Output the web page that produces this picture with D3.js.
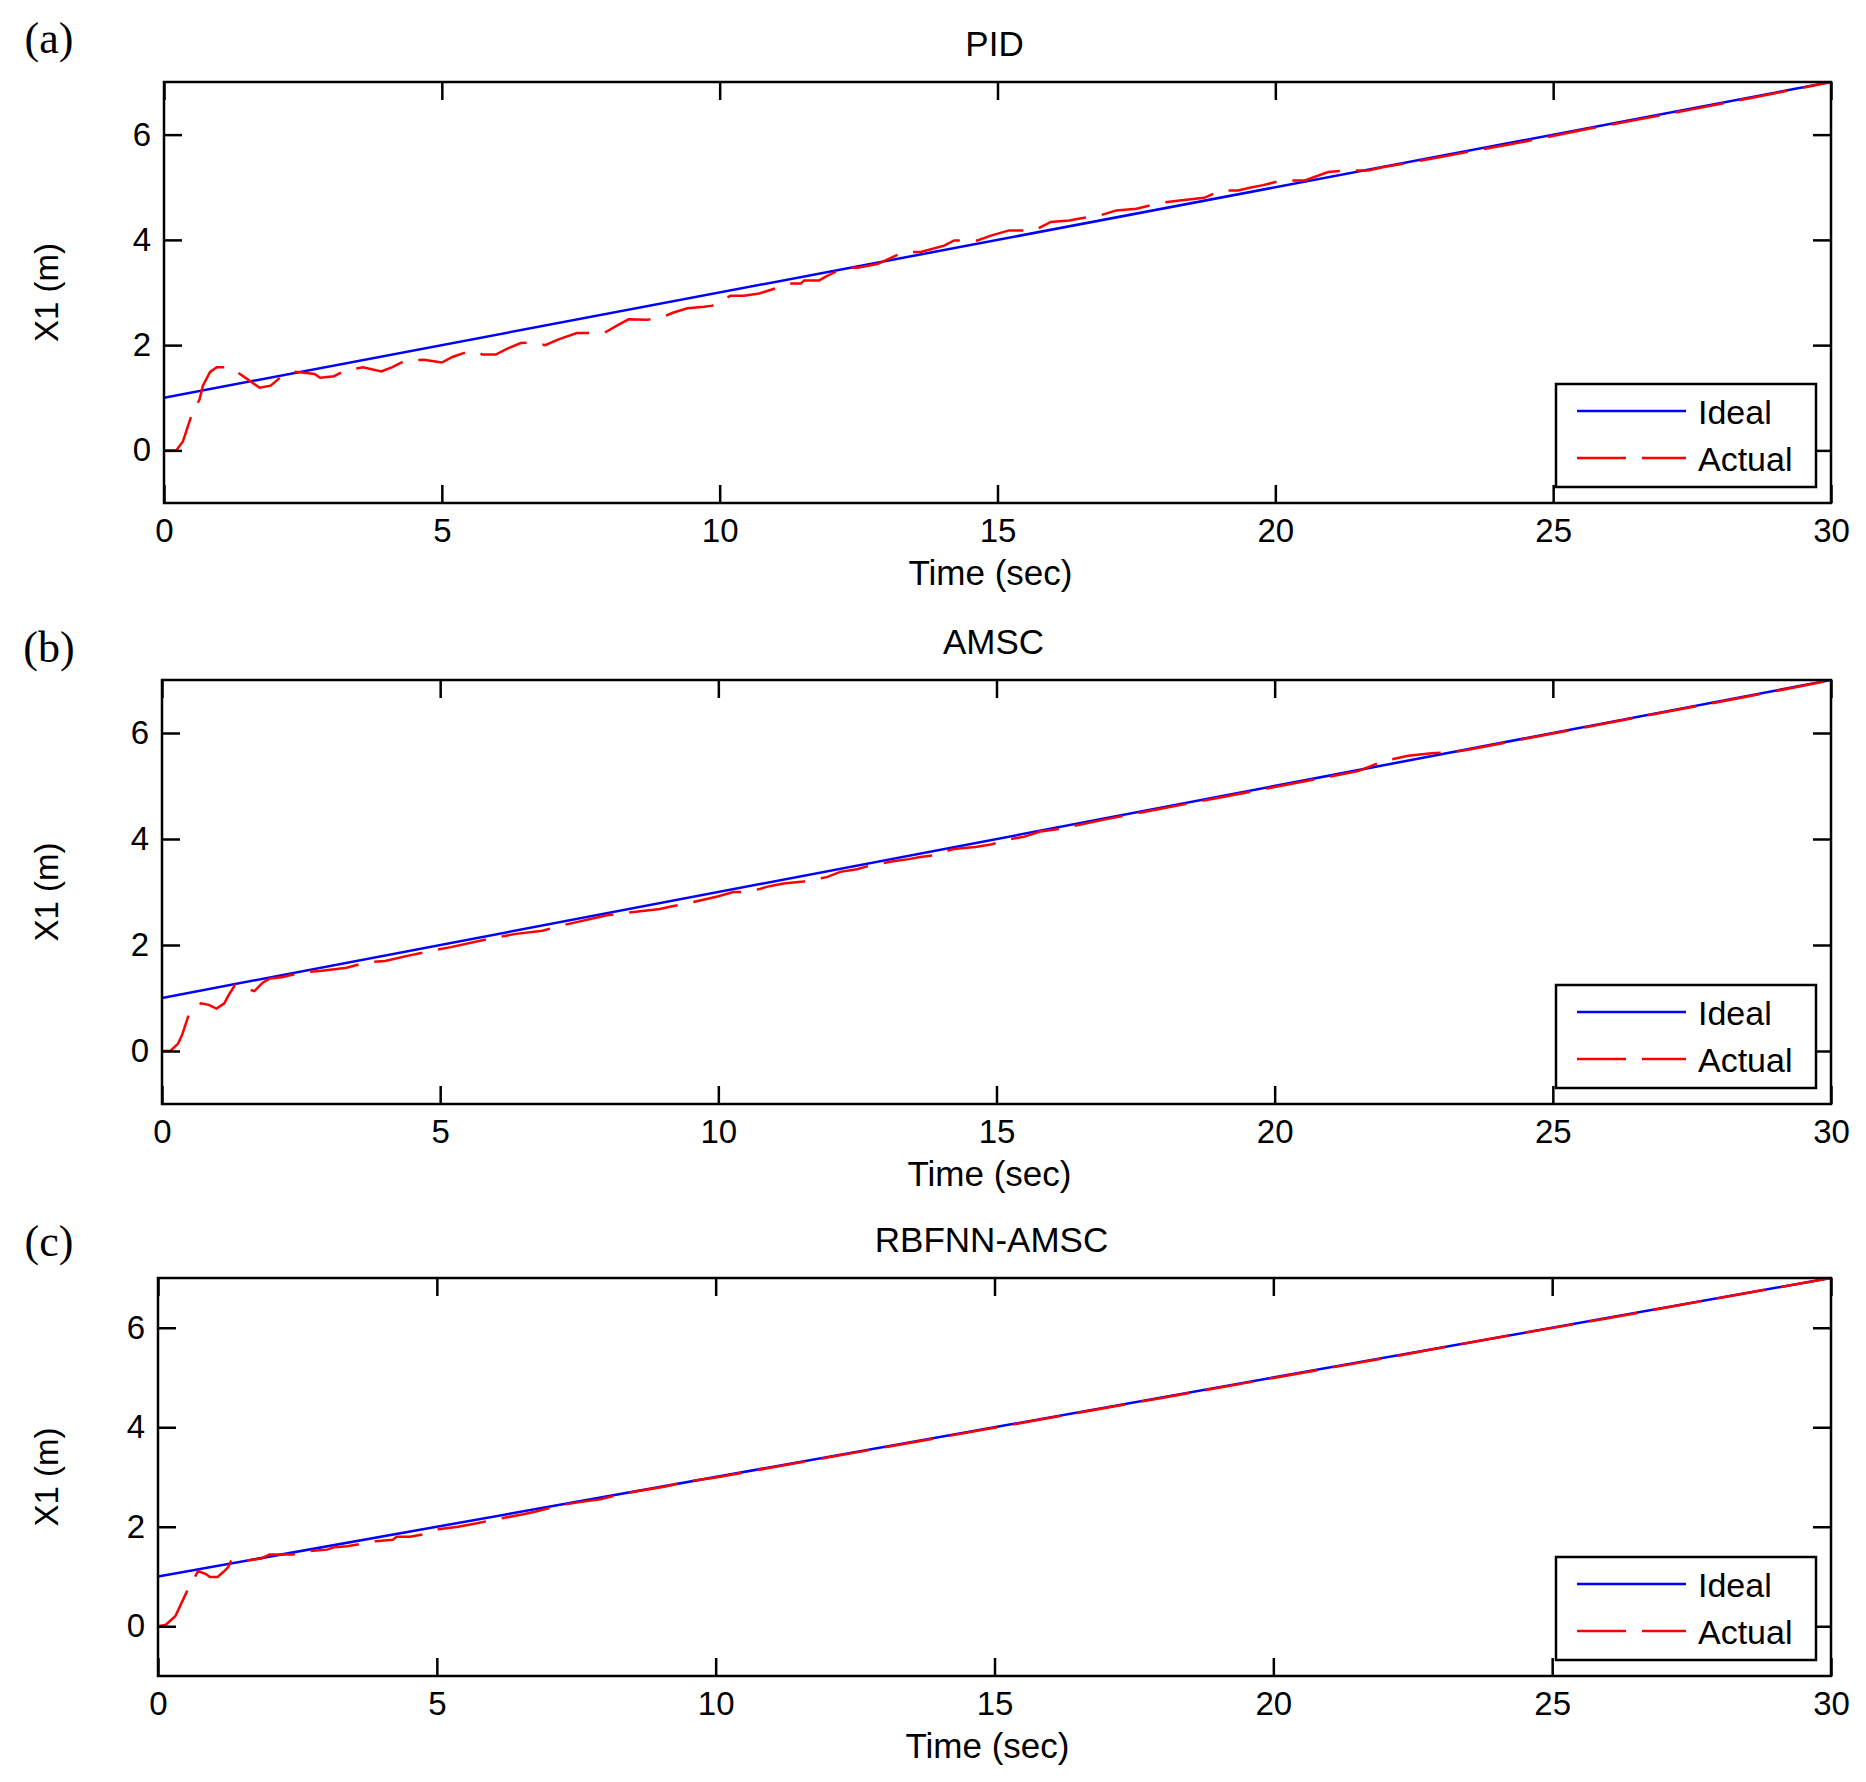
<!DOCTYPE html>
<html>
<head>
<meta charset="utf-8">
<script src="https://cdn.jsdelivr.net/npm/d3@7"></script>
<style>
  body { margin: 0; background: #fff; }
  svg text { font-family: "Liberation Sans", Arial, sans-serif; fill: #000; }
</style>
</head>
<body>
<svg id="chart" width="1866" height="1782"></svg>
<script>
// ---- data ----
const titles = ["PID", "AMSC", "RBFNN-AMSC"];
const panelLabels = ["(a)", "(b)", "(c)"];
const xTicks = [0, 5, 10, 15, 20, 25, 30];
const yTicks = [0, 2, 4, 6];
const legendNames = ["Ideal", "Actual"];

// ideal trajectory (same in every panel)
const idealTime = [0, 30];
const idealX1 = [1, 7];

// PID actual
const pidTime = [0, 0.22, 0.34, 0.5, 0.64, 0.7, 0.83, 0.95, 1.19, 1.52, 1.72, 1.92, 2.12, 2.29, 2.41, 2.71, 2.81, 3.06, 3.26, 3.58,
  3.91, 4.11, 4.35, 4.68, 5.0, 5.2, 5.45, 5.65, 5.73, 5.97, 6.17, 6.42, 6.62, 6.86, 7.1, 7.43, 7.63, 7.92, 8.15, 8.36,
  8.69, 8.97, 9.17, 9.42, 9.72, 9.87, 10.2, 10.44, 10.71, 11.04, 11.25, 11.46, 11.52, 11.79, 11.91, 12.06, 12.24, 12.48, 12.84, 13.08,
  13.32, 13.62, 14.04, 14.22, 14.64, 14.88, 15.21, 15.66, 15.96, 16.29, 16.56, 16.86, 17.14, 17.5, 17.77, 18.0, 18.28, 18.72, 19.03, 19.33,
  19.54, 19.78, 20.11, 20.53, 20.95, 21.31, 21.67, 21.93, 23.0, 23.71, 24.5, 25.68, 26.5, 27.5, 28.54, 29.58, 30];
const pidX1 = [0, 0, 0.17, 0.68, 0.97, 1.23, 1.49, 1.58, 1.58, 1.34, 1.19, 1.23, 1.41, 1.49, 1.49, 1.45, 1.38, 1.41, 1.52, 1.58,
  1.50, 1.58, 1.71, 1.72, 1.67, 1.78, 1.87, 1.87, 1.82, 1.82, 1.93, 2.04, 2.05, 2.0, 2.11, 2.23, 2.23, 2.23, 2.37, 2.49,
  2.48, 2.53, 2.62, 2.70, 2.73, 2.75, 2.94, 2.94, 2.98, 3.09, 3.17, 3.17, 3.23, 3.23, 3.30, 3.38, 3.47, 3.47, 3.54, 3.66,
  3.77, 3.77, 3.89, 3.99, 3.99, 4.08, 4.18, 4.18, 4.34, 4.37, 4.42, 4.47, 4.56, 4.59, 4.66, 4.71, 4.75, 4.80, 4.94, 4.94,
  4.99, 5.04, 5.13, 5.13, 5.29, 5.32, 5.32, 5.38, 5.58, 5.72, 5.87, 6.12, 6.28, 6.48, 6.69, 6.91, 7.0];

// AMSC actual
const amscTime = [0, 0.15, 0.29, 0.36, 0.48, 0.70, 0.84, 0.98, 1.12, 1.2, 1.31, 1.66, 1.81, 1.94, 2.15, 2.5, 2.84, 3.32, 3.67, 4.01,
  4.43, 4.84, 5.19, 5.8, 6.36, 6.84, 7.19, 8.0, 8.36, 8.95, 9.17, 9.55, 9.75, 10.0, 10.27, 10.39, 10.72, 10.92, 11.17, 11.53,
  11.95, 12.19, 12.49, 12.7, 12.94, 13.09, 13.42, 13.63, 13.87, 14.05, 14.23, 14.62, 14.92, 15.07, 15.25, 15.49, 15.79, 16.12, 17, 18,
  19, 20, 21, 21.5, 21.95, 22.4, 22.82, 23.2, 23.5, 24.5, 25.5, 26.5, 27.5, 28.5, 29.5, 30];
const amscX1 = [0, 0, 0.14, 0.3, 0.68, 0.90, 0.87, 0.80, 0.90, 1.06, 1.24, 1.13, 1.29, 1.37, 1.39, 1.48, 1.51, 1.57, 1.67, 1.70,
  1.80, 1.89, 1.96, 2.10, 2.21, 2.27, 2.37, 2.56, 2.61, 2.68, 2.73, 2.81, 2.86, 2.92, 3.0, 3.0, 3.05, 3.11, 3.16, 3.20,
  3.28, 3.38, 3.43, 3.49, 3.54, 3.57, 3.62, 3.66, 3.69, 3.76, 3.81, 3.85, 3.90, 3.95, 4.0, 4.04, 4.14, 4.19, 4.38, 4.58,
  4.78, 4.98, 5.18, 5.28, 5.47, 5.57, 5.62, 5.64, 5.69, 5.89, 6.09, 6.29, 6.49, 6.69, 6.89, 7.0];

// RBFNN-AMSC actual
const rbfTime = [0, 0.14, 0.31, 0.41, 0.54, 0.72, 0.86, 0.93, 1.07, 1.17, 1.26, 1.31, 1.41, 1.52, 1.85, 2.0, 2.41, 2.69, 3.03, 3.17,
  3.39, 3.66, 3.9, 4.21, 4.28, 4.52, 4.76, 5.03, 5.38, 5.72, 5.97, 6.21, 6.55, 6.76, 7.1, 7.31, 7.59, 7.93, 8.28, 8.62,
  9.1, 9.45, 10, 12, 14, 16, 18, 20, 22, 24, 26, 28, 30];
const rbfX1 = [0, 0.03, 0.2, 0.44, 0.75, 1.11, 1.05, 0.99, 0.99, 1.09, 1.19, 1.31, 1.34, 1.31, 1.36, 1.44, 1.44, 1.51, 1.54, 1.59,
  1.61, 1.66, 1.71, 1.74, 1.80, 1.80, 1.85, 1.95, 2.0, 2.07, 2.13, 2.18, 2.25, 2.30, 2.40, 2.45, 2.50, 2.55, 2.65, 2.72,
  2.81, 2.90, 2.99, 3.39, 3.79, 4.19, 4.59, 4.99, 5.39, 5.80, 6.19, 6.60, 7.0];

const actualTimes = [pidTime, amscTime, rbfTime];
const actualValues = [pidX1, amscX1, rbfX1];

// ---- layout ----
const layout = [
  { left: 164, right: 1831, top: 82, bottom: 503, labelY: 53 },
  { left: 162, right: 1831, top: 680, bottom: 1104, labelY: 662 },
  { left: 158, right: 1831, top: 1278, bottom: 1676, labelY: 1256 }
];

const svg = d3.select("#chart");
const zip = (a, b) => a.map((d, i) => [d, b[i]]);

layout.forEach((p, i) => {
  const x = d3.scaleLinear().domain([0, 30]).range([p.left, p.right]);
  const y = d3.scaleLinear().domain([-1, 7]).range([p.bottom, p.top]);
  const g = svg.append("g");

  const line = d3.line().x(d => x(d[0])).y(d => y(d[1]));

  // clip so the lines stay inside the box
  const clipId = "clip" + i;
  svg.append("clipPath").attr("id", clipId)
    .append("rect")
    .attr("x", p.left).attr("y", p.top)
    .attr("width", p.right - p.left).attr("height", p.bottom - p.top);

  const plot = g.append("g").attr("clip-path", `url(#${clipId})`);
  plot.append("path")
    .datum(zip(idealTime, idealX1))
    .attr("d", line)
    .attr("fill", "none")
    .attr("stroke", "#0000ff")
    .attr("stroke-width", 2.5);
  plot.append("path")
    .datum(zip(actualTimes[i], actualValues[i]))
    .attr("d", line)
    .attr("fill", "none")
    .attr("stroke", "#ff0000")
    .attr("stroke-width", 2.5)
    .attr("stroke-dasharray", "49,16");

  // axes (ticks inward, on all four sides)
  const bottomAxis = g.append("g")
    .attr("transform", `translate(0,${p.bottom})`)
    .call(d3.axisBottom(x).tickValues(xTicks).tickSize(-18).tickPadding(16).tickFormat(d3.format("d")));
  const topAxis = g.append("g")
    .attr("transform", `translate(0,${p.top})`)
    .call(d3.axisTop(x).tickValues(xTicks).tickSize(-18).tickFormat(""));
  const leftAxis = g.append("g")
    .attr("transform", `translate(${p.left},0)`)
    .call(d3.axisLeft(y).tickValues(yTicks).tickSize(-18).tickPadding(13).tickFormat(d3.format("d")));
  const rightAxis = g.append("g")
    .attr("transform", `translate(${p.right},0)`)
    .call(d3.axisRight(y).tickValues(yTicks).tickSize(-18).tickFormat(""));

  [bottomAxis, topAxis, leftAxis, rightAxis].forEach(a => {
    a.select(".domain").remove();
    a.selectAll(".tick line").attr("stroke", "#000").attr("stroke-width", 2.5);
    a.selectAll(".tick text").attr("font-size", 33).attr("fill", "#000");
  });

  // box
  g.append("rect")
    .attr("x", p.left).attr("y", p.top)
    .attr("width", p.right - p.left).attr("height", p.bottom - p.top)
    .attr("fill", "none").attr("stroke", "#000").attr("stroke-width", 2.5);

  // texts
  g.append("text")
    .attr("x", (p.left + p.right) / 2 - 3).attr("y", p.top - 26)
    .attr("text-anchor", "middle").attr("font-size", 35)
    .text(titles[i]);
  g.append("text")
    .attr("x", (p.left + p.right) / 2 - 7).attr("y", p.bottom + 82)
    .attr("text-anchor", "middle").attr("font-size", 35)
    .text("Time (sec)");
  g.append("text")
    .attr("transform", `translate(46,${(p.top + p.bottom) / 2}) rotate(-90)`)
    .attr("text-anchor", "middle").attr("dy", "0.35em").attr("font-size", 33)
    .text("X1 (m)");
  g.append("text")
    .attr("x", 49).attr("y", p.labelY)
    .attr("text-anchor", "middle")
    .attr("font-size", 44)
    .style("font-family", "'Liberation Serif', 'Times New Roman', serif")
    .text(panelLabels[i]);

  // legend
  const lw = 260, lh = 103;
  const lx = p.right - 15 - lw, ly = p.bottom - 16 - lh;
  const leg = g.append("g").attr("transform", `translate(${lx},${ly})`);
  leg.append("rect").attr("width", lw).attr("height", lh)
    .attr("fill", "#fff").attr("stroke", "#000").attr("stroke-width", 2.5);
  const legColors = ["#0000ff", "#ff0000"];
  const legDash = [null, "49,16"];
  legendNames.forEach((name, k) => {
    leg.append("line")
      .attr("x1", 21).attr("x2", 130)
      .attr("y1", 27 + k * 47).attr("y2", 27 + k * 47)
      .attr("stroke", legColors[k]).attr("stroke-width", 2.5)
      .attr("stroke-dasharray", legDash[k]);
    leg.append("text")
      .attr("x", 142).attr("y", 40 + k * 47)
      .attr("font-size", 34)
      .text(name);
  });
});
</script>
</body>
</html>
